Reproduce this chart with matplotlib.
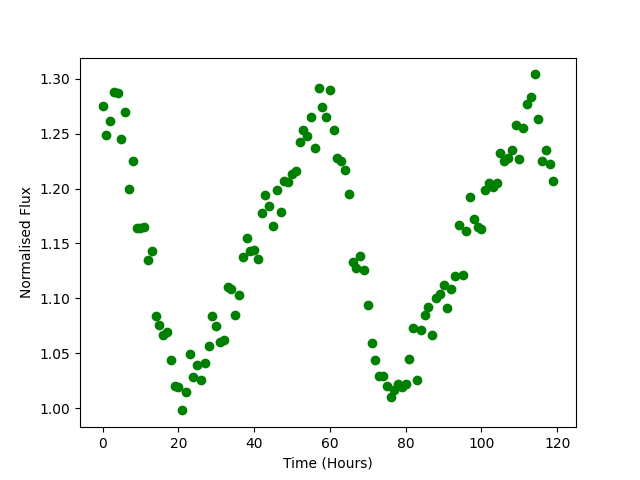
import numpy as np
import matplotlib
matplotlib.use("Agg")
import matplotlib.pyplot as plt

# time in hours, one reading per hour
hours = np.arange(120)

flux = [1.275, 1.249, 1.262, 1.288, 1.287, 1.245, 1.270, 1.200, 1.225, 1.164,
        1.164, 1.165, 1.135, 1.143, 1.084, 1.076, 1.067, 1.069, 1.044, 1.020,
        1.019, 0.998, 1.015, 1.049, 1.028, 1.039, 1.026, 1.041, 1.057, 1.084,
        1.075, 1.060, 1.062, 1.110, 1.109, 1.085, 1.103, 1.138, 1.155, 1.143,
        1.144, 1.136, 1.178, 1.194, 1.184, 1.166, 1.199, 1.179, 1.207, 1.206,
        1.213, 1.216, 1.242, 1.253, 1.248, 1.265, 1.237, 1.292, 1.274, 1.265,
        1.290, 1.253, 1.228, 1.225, 1.217, 1.195, 1.133, 1.128, 1.139, 1.126,
        1.094, 1.059, 1.044, 1.029, 1.029, 1.020, 1.010, 1.017, 1.022, 1.019,
        1.022, 1.045, 1.073, 1.026, 1.071, 1.085, 1.092, 1.067, 1.100, 1.104,
        1.112, 1.091, 1.109, 1.120, 1.167, 1.121, 1.161, 1.192, 1.172, 1.165,
        1.163, 1.199, 1.205, 1.201, 1.205, 1.232, 1.225, 1.228, 1.235, 1.258,
        1.227, 1.255, 1.277, 1.283, 1.304, 1.263, 1.225, 1.235, 1.222, 1.207]

fig = plt.figure(figsize=(6.4, 4.8), dpi=100)
plt.scatter(hours, flux, color='green')
plt.xlabel('Time (Hours)')
plt.ylabel('Normalised Flux')
plt.savefig('out.png')
